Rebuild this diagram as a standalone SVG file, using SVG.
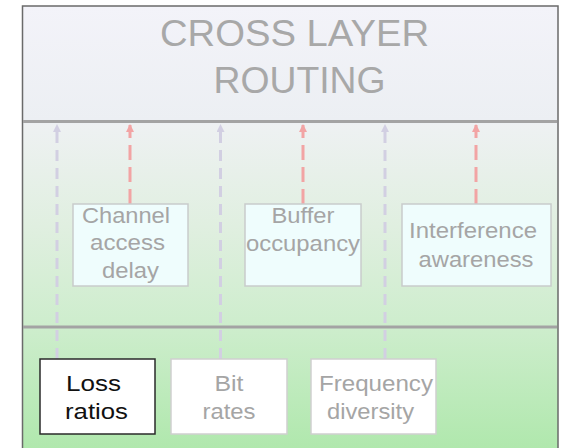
<svg xmlns="http://www.w3.org/2000/svg" width="561" height="448" viewBox="0 0 561 448">
  <defs>
    <linearGradient id="bg" x1="0" y1="6" x2="0" y2="448" gradientUnits="userSpaceOnUse">
      <stop offset="0" stop-color="#f3f3f9"/>
      <stop offset="0.26" stop-color="#eceff3"/>
      <stop offset="0.27" stop-color="#eef1f2"/>
      <stop offset="0.5" stop-color="#e0efe0"/>
      <stop offset="0.73" stop-color="#cdedcc"/>
      <stop offset="1" stop-color="#b0e8ad"/>
    </linearGradient>
    <marker id="ag" markerWidth="8" markerHeight="8" refX="4" refY="1" orient="0" markerUnits="userSpaceOnUse">
      <path d="M0,8 L4,0 L8,8 Z" fill="#d2cfe2"/>
    </marker>
    <marker id="ar" markerWidth="8" markerHeight="8" refX="4" refY="1" orient="0" markerUnits="userSpaceOnUse">
      <path d="M0,8 L4,0 L8,8 Z" fill="#f2a4a4"/>
    </marker>
  </defs>
  <style>
    .sep { stroke: #a3a3a3; stroke-width: 3; }
    .gray { stroke: #d2cfe2; stroke-width: 3; fill: none; stroke-dasharray: 11 7; }
    .red { stroke: #f2a4a4; stroke-width: 3; fill: none; stroke-dasharray: 15 7; }
    .mid rect { fill: #effdfd; stroke: #c9cccb; stroke-width: 1.5; }
    .low rect { fill: #ffffff; stroke: #cfcfcf; stroke-width: 1.5; }
    text { font-family: "Liberation Sans", Arial, sans-serif; font-size: 22px; fill: #a5a5a5; text-anchor: middle; }
    .hdr { font-size: 36px; fill: #a8a8a8; }
  </style>
  <rect x="0" y="0" width="561" height="448" fill="#ffffff"/>
  <rect x="22.5" y="6" width="535.5" height="450" fill="url(#bg)" stroke="#6a6a6a" stroke-width="1.5"/>
  <line class="sep" x1="23" y1="121.5" x2="557" y2="121.5"/>
  <line class="sep" x1="23" y1="327" x2="557" y2="327"/>

  <g id="header">
    <text class="hdr" x="294.5" y="46" textLength="269" lengthAdjust="spacingAndGlyphs">CROSS LAYER</text>
    <text class="hdr" x="299.5" y="93" textLength="172" lengthAdjust="spacingAndGlyphs">ROUTING</text>
  </g>

  <g id="connectors">
    <path class="gray" d="M57,359 V125" marker-end="url(#ag)"/>
    <path class="gray" d="M220.5,359 V125" marker-end="url(#ag)"/>
    <path class="gray" d="M385,359 V125" marker-end="url(#ag)"/>
    <path class="red" d="M130,204 V125" marker-end="url(#ar)"/>
    <path class="red" d="M303,204 V125" marker-end="url(#ar)"/>
    <path class="red" d="M476,204 V125" marker-end="url(#ar)"/>
  </g>

  <g id="channel-access-delay" class="mid">
    <rect x="73" y="204" width="115" height="82"/>
    <text x="126" y="223" textLength="88" lengthAdjust="spacingAndGlyphs">Channel</text>
    <text x="127.5" y="250" textLength="75" lengthAdjust="spacingAndGlyphs">access</text>
    <text x="130.5" y="278" textLength="57" lengthAdjust="spacingAndGlyphs">delay</text>
  </g>
  <g id="buffer-occupancy" class="mid">
    <rect x="245" y="204" width="116" height="82"/>
    <text x="303" y="223" textLength="63" lengthAdjust="spacingAndGlyphs">Buffer</text>
    <text x="303" y="251" textLength="114" lengthAdjust="spacingAndGlyphs">occupancy</text>
  </g>
  <g id="interference-awareness" class="mid">
    <rect x="402" y="204" width="149" height="82"/>
    <text x="473" y="238" textLength="128" lengthAdjust="spacingAndGlyphs">Interference</text>
    <text x="476" y="267" textLength="115" lengthAdjust="spacingAndGlyphs">awareness</text>
  </g>

  <g id="loss-ratios">
    <rect x="40" y="359" width="115" height="75" fill="#ffffff" stroke="#2a2a2a" stroke-width="1.5"/>
    <text x="93.5" y="391" fill="#111111" style="fill:#111111" textLength="55" lengthAdjust="spacingAndGlyphs">Loss</text>
    <text x="96.5" y="419" style="fill:#111111" textLength="63" lengthAdjust="spacingAndGlyphs">ratios</text>
  </g>
  <g id="bit-rates" class="low">
    <rect x="171" y="359" width="116" height="75"/>
    <text x="229" y="391" textLength="29" lengthAdjust="spacingAndGlyphs">Bit</text>
    <text x="229" y="419" textLength="53" lengthAdjust="spacingAndGlyphs">rates</text>
  </g>
  <g id="frequency-diversity" class="low">
    <rect x="311" y="359" width="125" height="75"/>
    <text x="376" y="391" textLength="114" lengthAdjust="spacingAndGlyphs">Frequency</text>
    <text x="370.5" y="419" textLength="87" lengthAdjust="spacingAndGlyphs">diversity</text>
  </g>
</svg>
